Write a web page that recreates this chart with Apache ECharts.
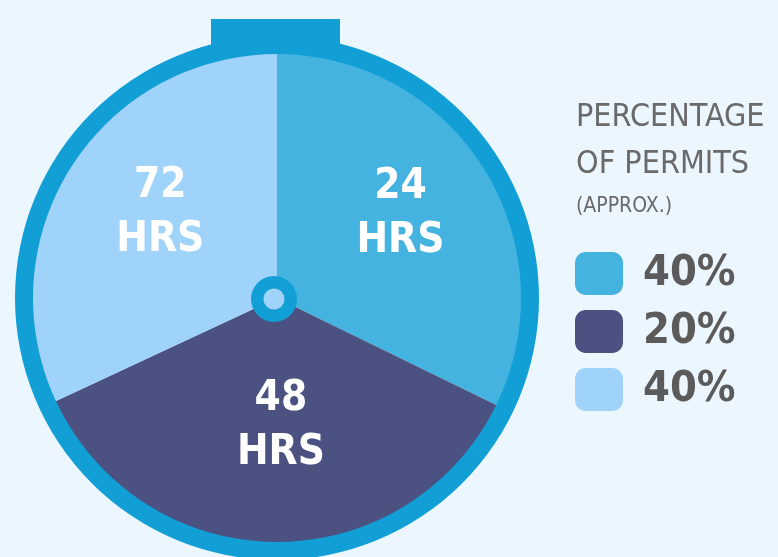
<!DOCTYPE html>
<html>
<head>
<meta charset="utf-8">
<script src="https://cdn.jsdelivr.net/npm/echarts@6/dist/echarts.min.js"></script>
<style>
html,body{margin:0;padding:0;background:#ECF6FE;}
#chart{width:778px;height:557px;}
</style>
</head>
<body>
<div id="chart"></div>
<script>
// ---- data ----
var categories = ['24 HRS', '48 HRS', '72 HRS'];
var sliceDegrees = [116, 129, 115];          // visible slice sizes (degrees of the dial)
var permitPercents = [40, 20, 40];           // legend values (approx.)
var sliceColors = ['#45B3E0', '#4B5282', '#A0D3FA'];
var titleLines = ['PERCENTAGE', 'OF PERMITS'];
var subTitle = '(APPROX.)';

var FONT = "'Liberation Sans Narrow', 'DejaVu Sans Condensed', 'Roboto', sans-serif";
var RING = '#129FD6';

var pieData = categories.map(function (c, i) {
  return { name: c, value: sliceDegrees[i], itemStyle: { color: sliceColors[i] } };
});

function labelFmt(p) { return p.name.replace(' ', '\n'); }
var labelStyle = {
  color: '#ffffff', fontFamily: FONT, fontWeight: 'bold', fontSize: 42, lineHeight: 54,
  formatter: labelFmt, position: 'inside'
};

function labelOverlay(name, center, radius, showIdx) {
  return {
    type: 'pie', name: name, center: center, radius: [0, radius],
    startAngle: 90, clockwise: true, silent: true, z: 3,
    itemStyle: { color: 'rgba(0,0,0,0)', borderWidth: 0 },
    label: Object.assign({}, labelStyle),
    labelLine: { show: false },
    data: categories.map(function (c, i) {
      return { name: c, value: sliceDegrees[i], itemStyle: { color: 'rgba(0,0,0,0)' },
               label: { show: showIdx.indexOf(i) >= 0 } };
    })
  };
}

var chart = echarts.init(document.getElementById('chart'), null, { renderer: 'canvas' });
chart.setOption({
  backgroundColor: '#ECF6FE',
  animation: false,
  title: {
    left: 576, top: 94, padding: 0, itemGap: 7,
    text: titleLines.join('\n'),
    textStyle: { fontFamily: FONT, fontWeight: 'normal', fontSize: 32, lineHeight: 47, color: '#6A6A6A' },
    subtext: subTitle,
    subtextStyle: { fontFamily: FONT, fontWeight: 'normal', fontSize: 21, lineHeight: 24, color: '#6A6A6A' }
  },
  legend: {
    orient: 'vertical', left: 575, top: 252, padding: 0,
    itemWidth: 48, itemHeight: 43, itemGap: 15, icon: 'roundRect',
    selectedMode: false,
    data: categories.map(function (c, i) {
      return { name: c, itemStyle: { color: sliceColors[i] } };
    }),
    formatter: function (name) { return permitPercents[categories.indexOf(name)] + '%'; },
    textStyle: { fontFamily: FONT, fontWeight: 'bold', fontSize: 43, color: '#5B5B5B', padding: [0, 0, 0, 15] }
  },
  graphic: [{
    type: 'rect', z: 0, silent: true,
    shape: { x: 211, y: 19, width: 129, height: 36 },
    style: { fill: RING }
  }],
  series: [
    {
      type: 'pie', name: 'dial', center: [277, 298], radius: [0, 245],
      startAngle: 90, clockwise: true, silent: true, z: 2,
      itemStyle: { borderWidth: 0 },
      label: { show: false },
      labelLine: { show: false },
      data: pieData
    },
    labelOverlay('labelsTop', [280, 289], 278, [0, 2]),
    labelOverlay('labelsBottom', [282, 301], 244, [1]),
    {
      type: 'pie', name: 'ring', center: [277, 298], radius: [244, 262],
      silent: true, z: 4, label: { show: false }, labelLine: { show: false },
      itemStyle: { color: RING, borderWidth: 0 },
      data: [{ name: 'ring', value: 1 }]
    },
    {
      type: 'pie', name: 'hub', center: [274, 299], radius: [10, 23],
      silent: true, z: 5, label: { show: false }, labelLine: { show: false },
      itemStyle: { color: RING, borderWidth: 0 },
      data: [{ name: 'hub', value: 1 }]
    },
    {
      type: 'pie', name: 'hubcore', center: [274, 299], radius: [0, 10.5],
      silent: true, z: 5, label: { show: false }, labelLine: { show: false },
      itemStyle: { color: '#A0D3FA', borderWidth: 0 },
      data: [{ name: 'core', value: 1 }]
    }
  ]
});
</script>
</body>
</html>
